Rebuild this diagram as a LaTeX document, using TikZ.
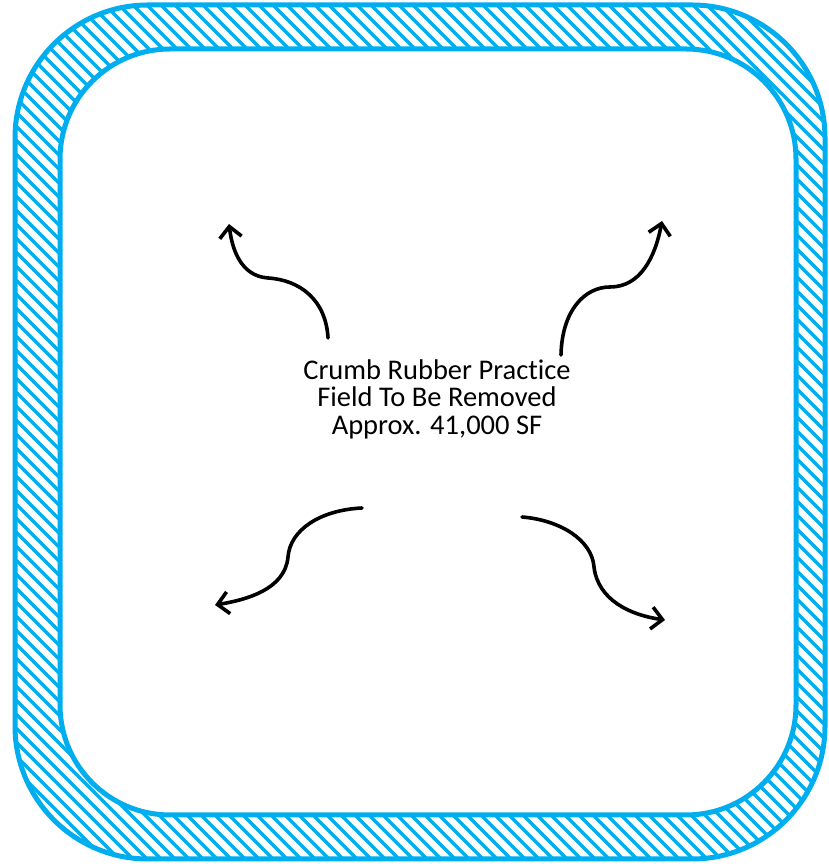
\documentclass[tikz,border=0pt]{standalone}
\usepackage{fontspec}
\setmainfont[Ligatures=NoCommon]{Carlito}
\usetikzlibrary{arrows.meta}
\definecolor{fieldblue}{HTML}{00AEEF}
\begin{document}
\begin{tikzpicture}[x=1pt,y=1pt,
  bandedge/.style={draw=fieldblue, line width=5pt},
  hatchline/.style={draw=fieldblue, line width=3.4pt},
  flow/.style={line width=3.6pt, line cap=round, -{Straight Barb[length=11pt,width=22pt,line width=3.6pt]}},
  lbl/.style={align=center, font=\fontsize{28.5}{27.5}\selectfont}]
\useasboundingbox (0,0) rectangle (829,864);
% hatched band
\begin{scope}
  \clip[rounded corners=133pt] (15,5) rectangle (825,859);
  \foreach \a in {-880,-866,...,840} \draw[hatchline] (\a,864) -- ++(900,-900);
\end{scope}
\fill[white, rounded corners=110pt] (60,49) rectangle (796,815);
\draw[bandedge, rounded corners=133pt] (15,5) rectangle (825,859);
\draw[bandedge, rounded corners=110pt] (60,49) rectangle (796,815);
% label
\node[lbl] (label) at (437,465) {Crumb Rubber Practice\\Field To Be Removed\\Approx. 41,000 SF};
% arrows
\coordinate (tls) at (328,526); \coordinate (tlm) at (268,586); \coordinate (tlt) at (229,640);
\coordinate (trs) at (561,509); \coordinate (trm) at (610,577); \coordinate (trt) at (662,643);
\coordinate (bls) at (362,356); \coordinate (blm) at (288,307); \coordinate (blt) at (215,259);
\coordinate (brs) at (522,347); \coordinate (brm) at (594,297); \coordinate (brt) at (665,244);
\draw[flow] (tls) .. controls (326,564) and (300,584) .. (tlm) .. controls (240,588) and (232,616) .. (tlt);
\draw[flow] (trs) .. controls (562,554) and (585,577) .. (trm) .. controls (640,577) and (655,606) .. (trt);
\draw[flow] (bls) .. controls (320,354) and (290,334) .. (blm) .. controls (285,274) and (245,264) .. (blt);
\draw[flow] (brs) .. controls (560,344) and (592,324) .. (brm) .. controls (598,264) and (630,249) .. (brt);
\end{tikzpicture}
\end{document}
